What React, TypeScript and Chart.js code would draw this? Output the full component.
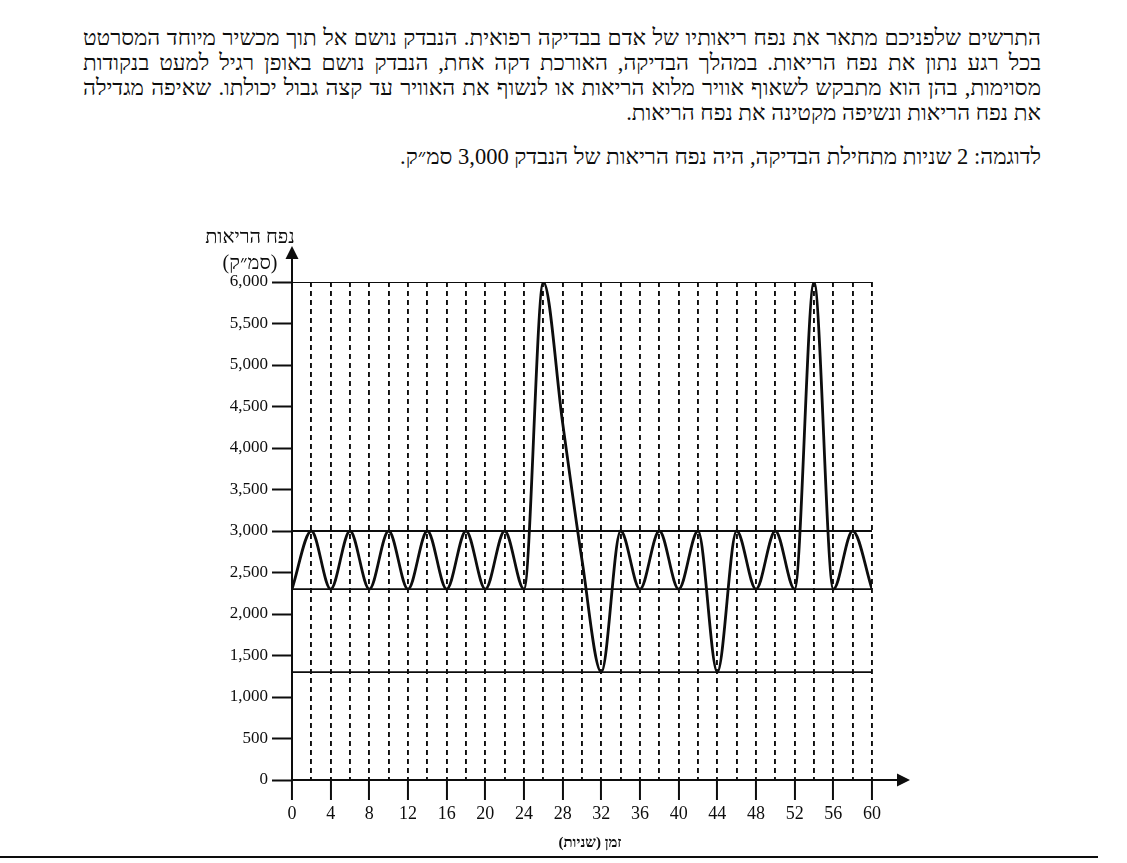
import React, { useEffect, useRef } from "react";
import { Chart, registerables } from "chart.js";

Chart.register(...registerables);

// ---- data ----
const timeSeconds = [0, 2, 4, 6, 8, 10, 12, 14, 16, 18, 20, 22, 24, 26, 28, 30, 32, 34, 36, 38, 40, 42, 44, 46, 48, 50, 52, 54, 56, 58, 60];
const lungVolume = [2300, 3000, 2300, 3000, 2300, 3000, 2300, 3000, 2300, 3000, 2300, 3000, 2300, 6000, 4300, 2650, 1300, 3000, 2300, 3000, 2300, 3000, 1300, 3000, 2300, 3000, 2300, 6000, 2300, 3000, 2300];
const referenceLevels = [6000, 3000, 2300, 1300];
const xTickLabels = [0, 4, 8, 12, 16, 20, 24, 28, 32, 36, 40, 44, 48, 52, 56, 60];
const yTickLabels = ["0", "500", "1,000", "1,500", "2,000", "2,500", "3,000", "3,500", "4,000", "4,500", "5,000", "5,500", "6,000"];
const xMin = 0;
const xMax = 60;
const xGridStep = 2;
const yMin = 0;
const yMax = 6000;
const yStep = 500;

const paragraphLines = [
  "התרשים שלפניכם מתאר את נפח ריאותיו של אדם בבדיקה רפואית. הנבדק נושם אל תוך מכשיר מיוחד המסרטט",
  "בכל רגע נתון את נפח הריאות. במהלך הבדיקה, האורכת דקה אחת, הנבדק נושם באופן רגיל למעט בנקודות",
  "מסוימות, בהן הוא מתבקש לשאוף אוויר מלוא הריאות או לנשוף את האוויר עד קצה גבול יכולתו. שאיפה מגדילה",
  "את נפח הריאות ונשיפה מקטינה את נפח הריאות.",
];
const exampleLine = "לדוגמה: 2 שניות מתחילת הבדיקה, היה נפח הריאות של הנבדק 3,000 סמ״ק.";
const yTitleLines = ["נפח הריאות", "(סמ״ק)"];
const xTitle = "זמן (שניות)";

const INK = "#0d0d0d";

const axisArrows = {
  id: "axisArrows",
  afterDraw(chart: any) {
    const { ctx } = chart;
    const xs = chart.scales.x;
    const ys = chart.scales.y;
    const x0 = xs.getPixelForValue(xMin);
    const y0 = ys.getPixelForValue(yMin);
    const yTop = ys.getPixelForValue(yMax) - 36;
    const xEnd = xs.getPixelForValue(xMax) + 38;
    ctx.save();
    ctx.strokeStyle = INK;
    ctx.fillStyle = INK;
    ctx.lineWidth = 2;
    ctx.beginPath();
    ctx.moveTo(x0, ys.top);
    ctx.lineTo(x0, yTop + 10);
    ctx.moveTo(xs.right, y0);
    ctx.lineTo(xEnd - 10, y0);
    ctx.stroke();
    ctx.beginPath();
    ctx.moveTo(x0, yTop);
    ctx.lineTo(x0 - 6.5, yTop + 13);
    ctx.lineTo(x0 + 6.5, yTop + 13);
    ctx.closePath();
    ctx.fill();
    ctx.beginPath();
    ctx.moveTo(xEnd, y0);
    ctx.lineTo(xEnd - 13, y0 - 6.5);
    ctx.lineTo(xEnd - 13, y0 + 6.5);
    ctx.closePath();
    ctx.fill();
    ctx.restore();
  },
};

function BreathChart() {
  const ref = useRef<HTMLCanvasElement | null>(null);
  useEffect(() => {
    if (!ref.current) return;
    const refSets = referenceLevels.map((lvl) => ({
      data: [
        { x: xMin, y: lvl },
        { x: xMax, y: lvl },
      ],
      borderColor: INK,
      borderWidth: 1.8,
      pointRadius: 0,
      fill: false,
      tension: 0,
    }));
    const chart = new Chart(ref.current, {
      type: "line",
      data: {
        datasets: [
          {
            data: timeSeconds.map((t, i) => ({ x: t, y: lungVolume[i] })),
            borderColor: INK,
            borderWidth: 2.8,
            pointRadius: 0,
            fill: false,
            cubicInterpolationMode: "monotone",
          } as any,
          ...refSets,
        ],
      },
      options: {
        animation: false,
        responsive: false,
        maintainAspectRatio: false,
        devicePixelRatio: 1,
        layout: { padding: { left: 0, right: 255, top: 82, bottom: 33 } },
        plugins: { legend: { display: false }, tooltip: { enabled: false } },
        scales: {
          x: {
            type: "linear",
            min: xMin,
            max: xMax,
            afterFit: (s: any) => {
              s.height = 50;
            },
            afterBuildTicks: (s: any) => {
              const t = [];
              for (let v = xMin; v <= xMax; v += xGridStep) t.push({ value: v });
              s.ticks = t;
            },
            ticks: {
              autoSkip: false,
              maxRotation: 0,
              padding: 3,
              color: INK,
              font: { family: "'Liberation Serif', serif", size: 18 },
              callback: (v: any) => (xTickLabels.includes(Number(v)) ? String(v) : ""),
            },
            grid: {
              color: (c: any) => (c.tick && c.tick.value === xMin ? "rgba(0,0,0,0)" : INK),
              lineWidth: 1.9,
              drawTicks: true,
              tickLength: 20,
              tickWidth: 2,
              tickBorderDash: [],
              tickColor: (c: any) => (c.tick && xTickLabels.includes(c.tick.value) ? INK : "rgba(0,0,0,0)"),
            } as any,
            border: { display: true, color: INK, width: 2, dash: [5, 4] } as any,
          },
          y: {
            type: "linear",
            min: yMin,
            max: yMax,
            afterFit: (s: any) => {
              s.width = 292;
            },
            ticks: {
              stepSize: yStep,
              padding: 4,
              color: INK,
              font: { family: "'Liberation Serif', serif", size: 17 },
              callback: (v: any) => yTickLabels[Math.round(Number(v) / yStep)] ?? "",
            },
            grid: {
              drawOnChartArea: false,
              drawTicks: true,
              tickLength: 20,
              tickWidth: 2,
              tickColor: INK,
              color: INK,
            },
            border: { display: true, color: INK, width: 2 },
          },
        },
      },
      plugins: [axisArrows],
    } as any);
    return () => chart.destroy();
  }, []);
  return (
    <canvas
      ref={ref}
      width={1127}
      height={663}
      style={{ position: "absolute", left: 0, top: 200, width: 1127, height: 663 }}
    />
  );
}

export default function App() {
  const hebFont = "'Liberation Serif', 'DejaVu Sans', serif";
  return (
    <div style={{ position: "absolute", left: 0, top: 0, width: 1127, height: 863, background: "#fff", overflow: "hidden" }}>
      <div
        style={{
          position: "absolute",
          left: 83,
          top: 25,
          width: 958,
          direction: "rtl",
          fontFamily: hebFont,
          fontSize: 22.5,
          lineHeight: "25px",
          color: INK,
        }}
      >
        {paragraphLines.map((l, i) => (
          <div
            key={i}
            style={{
              textAlign: i < paragraphLines.length - 1 ? "justify" : "right",
              textAlignLast: i < paragraphLines.length - 1 ? "justify" : "right",
              whiteSpace: "nowrap",
            } as any}
          >
            {l}
          </div>
        ))}
        <div style={{ marginTop: 19, textAlign: "right" }}>{exampleLine}</div>
      </div>
      <BreathChart />
      <div
        style={{
          position: "absolute",
          left: 180,
          top: 223,
          width: 140,
          textAlign: "center",
          direction: "rtl",
          fontFamily: hebFont,
          fontSize: 20,
          lineHeight: "26px",
          color: INK,
        }}
      >
        <div>{yTitleLines[0]}</div>
        <div>{yTitleLines[1]}</div>
      </div>
      <div
        style={{
          position: "absolute",
          left: 530,
          top: 833,
          width: 120,
          textAlign: "center",
          direction: "rtl",
          fontFamily: hebFont,
          fontSize: 15,
          fontWeight: "bold",
          lineHeight: "18px",
          color: INK,
        }}
      >
        {xTitle}
      </div>
      <div style={{ position: "absolute", left: 0, top: 856, width: 1098, height: 2, background: INK }} />
    </div>
  );
}
